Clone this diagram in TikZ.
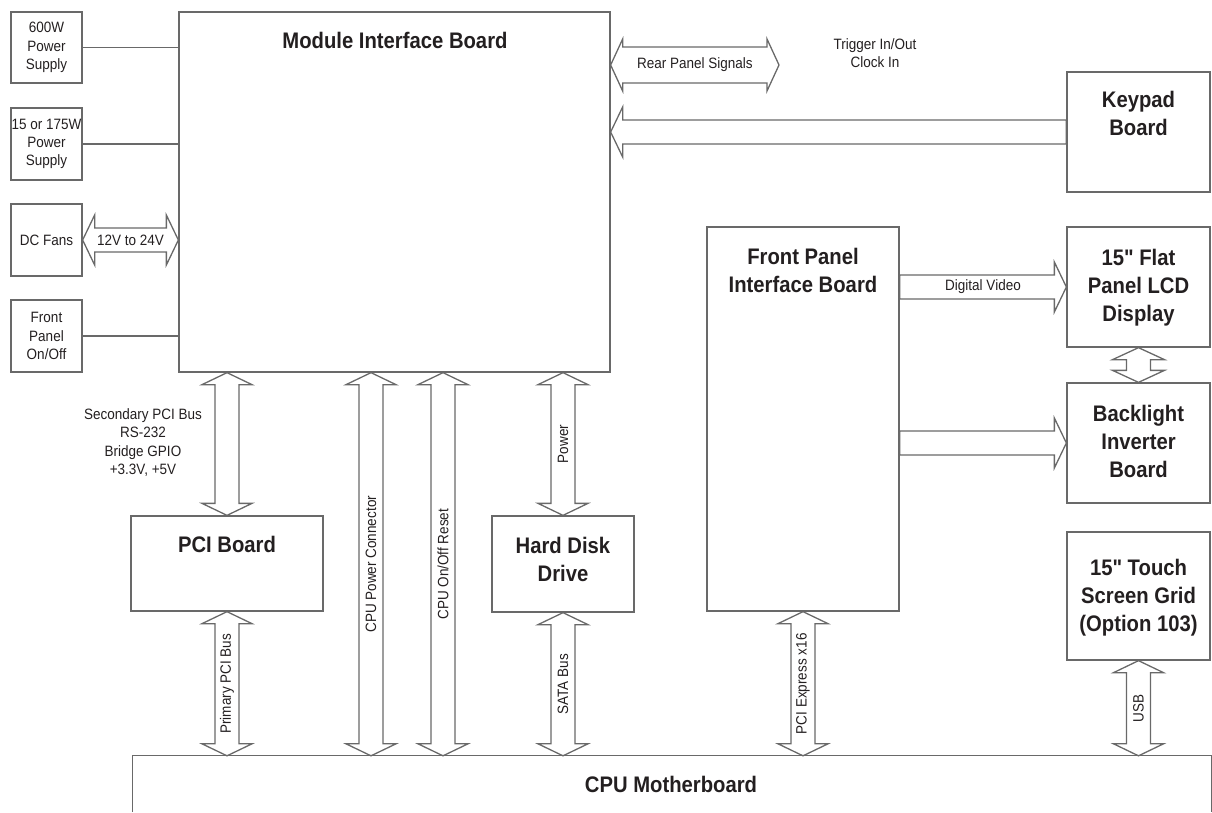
\documentclass[tikz,border=0pt]{standalone}
\usepackage{fontspec}
\setmainfont{Liberation Sans}[FakeStretch=0.9, Ligatures=TeXOff]
\usetikzlibrary{calc}
\definecolor{linec}{RGB}{105,105,105}
\definecolor{textc}{RGB}{35,31,32}
\newcommand\mysmallfont{\fontsize{15}{18.3}\selectfont}
\newcommand\mytitlefont{\fontsize{22.5}{28}\selectfont\bfseries}
\tikzset{
  box/.style={draw=linec, line width=1.3pt, inner sep=0pt, anchor=center, align=center, text=textc, font=\mysmallfont},
  conn/.style={draw=linec, line width=1.3pt, line join=miter},
  lab/.style={text=textc, font=\mysmallfont, inner sep=0pt, align=center},
  ttl/.style={text=textc, font=\mytitlefont, inner sep=0pt, align=center},
}
% vertical double block arrow: top, bottom, shaft half, head half, label, label name
\newcommand\vdarr[6]{%
  \draw[conn] let \p1=#1, \p2=#2 in
    (\x1,\y1) -- (\x1+#4,\y1-12pt) -- (\x1+#3,\y1-12pt) -- (\x1+#3,\y2+12pt) -- (\x1+#4,\y2+12pt)
    -- (\x1,\y2) -- (\x1-#4,\y2+12pt) -- (\x1-#3,\y2+12pt) -- (\x1-#3,\y1-12pt) -- (\x1-#4,\y1-12pt) -- cycle;
  \path #1 -- #2 node[midway, lab, rotate=90] (#6) {#5};}
% horizontal double block arrow: left, right, shaft half, head half, label, label name
\newcommand\hdarr[6]{%
  \draw[conn] let \p1=#1, \p2=#2 in
    (\x1,\y1) -- (\x1+12pt,\y1+#4) -- (\x1+12pt,\y1+#3) -- (\x2-12pt,\y1+#3) -- (\x2-12pt,\y1+#4)
    -- (\x2,\y1) -- (\x2-12pt,\y1-#4) -- (\x2-12pt,\y1-#3) -- (\x1+12pt,\y1-#3) -- (\x1+12pt,\y1-#4) -- cycle;
  \path #1 -- #2 node[midway, lab] (#6) {#5};}
% single arrow, tip on the left: tip, tail, shaft half, head half
\newcommand\larr[4]{%
  \draw[conn] let \p1=#1, \p2=#2 in
    (\x1,\y1) -- (\x1+12pt,\y1+#4) -- (\x1+12pt,\y1+#3) -- (\x2,\y1+#3) -- (\x2,\y1-#3)
    -- (\x1+12pt,\y1-#3) -- (\x1+12pt,\y1-#4) -- cycle;}
% single arrow, tip on the right: tail, tip, shaft half, head half, label, label name
\newcommand\rarr[6]{%
  \draw[conn] let \p1=#1, \p2=#2 in
    (\x2,\y1) -- (\x2-12pt,\y1+#4) -- (\x2-12pt,\y1+#3) -- (\x1,\y1+#3) -- (\x1,\y1-#3)
    -- (\x2-12pt,\y1-#3) -- (\x2-12pt,\y1-#4) -- cycle;
  \path #1 -- #2 node[midway, lab] (#6) {#5};}
\begin{document}
\begin{tikzpicture}[x=1pt,y=-1pt]
\useasboundingbox (0,0) rectangle (1212,812);
% left column
\node[box, minimum width=71pt, minimum height=71pt] (ps600) at (46.5,47.5) {600W\\Power\\Supply};
\node[box, minimum width=71pt, minimum height=72pt] (ps175) at (46.5,144) {15 or 175W\\Power\\Supply};
\node[box, minimum width=71pt, minimum height=72pt] (fans) at (46.5,240) {DC Fans};
\node[box, minimum width=71pt, minimum height=72pt] (fpsw) at (46.5,336) {Front\\Panel\\On/Off};
% main boards
\node[box, minimum width=431pt, minimum height=360pt] (mib) at (394.5,192) {};
\node[box, minimum width=143pt, minimum height=120pt] (keypad) at (1138.5,132) {};
\node[box, minimum width=192pt, minimum height=384pt] (fpib) at (803,419) {};
\node[box, minimum width=143pt, minimum height=120pt] (lcd) at (1138.5,287) {};
\node[box, minimum width=143pt, minimum height=120pt] (backlight) at (1138.5,443) {};
\node[box, minimum width=143pt, minimum height=128pt] (touch) at (1138.5,596) {};
\node[box, minimum width=192pt, minimum height=95pt] (pci) at (227,563.5) {};
\node[box, minimum width=142pt, minimum height=96pt] (hdd) at (563,564) {};
\node[inner sep=0pt, minimum width=1078pt, minimum height=56pt] (cpu) at (672,784) {};
\draw[conn] (cpu.south west) -- (cpu.north west) -- (cpu.north east) -- (cpu.south east);
% titles
\node[ttl, anchor=base] (mibt) at (395,48) {Module Interface Board};
\node[ttl] (keyt) at (1138.5,113.5) {Keypad\\Board};
\node[ttl] (fpibt) at (803,270.5) {Front Panel\\Interface Board};
\node[ttl] (lcdt) at (1138.5,288) {15" Flat\\Panel LCD\\Display};
\node[ttl] (blt) at (1138.5,441.5) {Backlight\\Inverter\\Board};
\node[ttl] (toucht) at (1138.5,598) {15" Touch\\Screen Grid\\(Option 103)};
\node[ttl, anchor=base] (pcit) at (227,552) {PCI Board};
\node[ttl] (hddt) at (563,559) {Hard Disk\\Drive};
\node[ttl, anchor=base] (cput) at (671,792) {CPU Motherboard};
% free texts
\node[lab] (secl) at (143,442.5) {Secondary PCI Bus\\RS-232\\Bridge GPIO\\+3.3V, +5V};
\node[lab] (trig) at (875,53) {Trigger In/Out\\Clock In};
% plain connectors
\draw[conn] (ps600.east) -- (mib.west |- ps600.east);
\draw[conn] (ps175.east) -- (mib.west |- ps175.east);
\draw[conn] (fpsw.east) -- (mib.west |- fpsw.east);
% block arrows
\coordinate (rearend) at (779,65);
\coordinate (xcpw) at (371,0);
\coordinate (xonoff) at (443,0);
\hdarr{(fans.east)}{(mib.west |- fans.east)}{12pt}{25pt}{12V to 24V}{fanl}
\hdarr{(mib.east |- rearend)}{(rearend)}{18pt}{26pt}{Rear Panel Signals}{rearl}
\larr{(mib.east |- keypad.west)}{(keypad.west)}{12pt}{25pt}
\rarr{(fpib.east |- lcd.west)}{(lcd.west)}{12pt}{25pt}{Digital Video}{dvl}
\rarr{(fpib.east |- backlight.west)}{(backlight.west)}{12pt}{25pt}{}{bll}
\vdarr{(lcd.south)}{(backlight.north)}{12pt}{26pt}{}{lbl}
\vdarr{(pci.north |- mib.south)}{(pci.north)}{12pt}{25pt}{}{secarr}
\vdarr{(hdd.north |- mib.south)}{(hdd.north)}{12pt}{25pt}{Power}{pwrl}
\vdarr{(mib.south -| xcpw)}{(cpu.north -| xcpw)}{12pt}{25pt}{CPU Power Connector}{cpwl}
\vdarr{(mib.south -| xonoff)}{(cpu.north -| xonoff)}{12pt}{25pt}{CPU On/Off Reset}{onoffl}
\vdarr{(pci.south)}{(cpu.north -| pci.south)}{12pt}{25pt}{Primary PCI Bus}{ppcil}
\vdarr{(hdd.south)}{(cpu.north -| hdd.south)}{12pt}{25pt}{SATA Bus}{satal}
\vdarr{(fpib.south)}{(cpu.north -| fpib.south)}{12pt}{25pt}{PCI Express x16}{pciel}
\vdarr{(touch.south)}{(cpu.north -| touch.south)}{12pt}{25pt}{USB}{usbl}
\end{tikzpicture}
\end{document}
